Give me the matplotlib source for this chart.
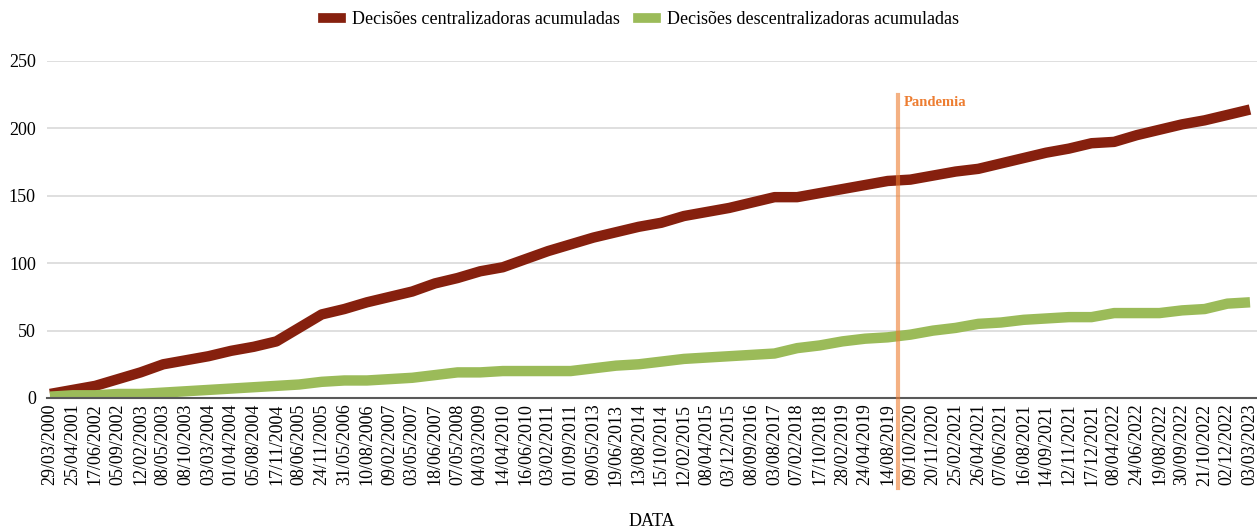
import matplotlib
matplotlib.use("Agg")
import matplotlib.pyplot as plt
from matplotlib.lines import Line2D
import matplotlib.transforms as mtransforms

dates = ["29/03/2000", "25/04/2001", "17/06/2002", "05/09/2002", "12/02/2003", "08/05/2003",
         "08/10/2003", "03/03/2004", "01/04/2004", "05/08/2004", "17/11/2004", "08/06/2005",
         "24/11/2005", "31/05/2006", "10/08/2006", "09/02/2007", "03/05/2007", "18/06/2007",
         "07/05/2008", "04/03/2009", "14/04/2010", "16/06/2010", "03/02/2011", "01/09/2011",
         "09/05/2013", "19/06/2013", "13/08/2014", "15/10/2014", "12/02/2015", "08/04/2015",
         "03/12/2015", "08/09/2016", "03/08/2017", "07/02/2018", "17/10/2018", "28/02/2019",
         "24/04/2019", "14/08/2019", "09/10/2020", "20/11/2020", "25/02/2021", "26/04/2021",
         "07/06/2021", "16/08/2021", "14/09/2021", "12/11/2021", "17/12/2021", "08/04/2022",
         "24/06/2022", "19/08/2022", "30/09/2022", "21/10/2022", "02/12/2022", "03/03/2023"]

centralizadoras = [3, 6, 9, 14, 19, 25, 28, 31, 35, 38, 42, 52, 62, 66, 71, 75, 79, 85,
                   89, 94, 97, 103, 109, 114, 119, 123, 127, 130, 135, 138, 141, 145, 149, 149,
                   152, 155, 158, 161, 162, 165, 168, 170, 174, 178, 182, 185, 189, 190, 195,
                   199, 203, 206, 210, 214]

descentralizadoras = [1, 2, 2, 3, 3, 4, 5, 6, 7, 8, 9, 10, 12, 13, 13, 14, 15, 17,
                      19, 19, 20, 20, 20, 20, 22, 24, 25, 27, 29, 30, 31, 32, 33, 37,
                      39, 42, 44, 45, 47, 50, 52, 55, 56, 58, 59, 60, 60, 63, 63,
                      63, 65, 66, 70, 71]

pandemia_pos = 37.45
pandemia_label = "Pandemia"
series_names = ["Decisões centralizadoras acumuladas", "Decisões descentralizadoras acumuladas"]

RED = "#86200E"
GREEN = "#9BBB59"
ORANGE = "#ED7D31"

plt.rcParams["font.family"] = ["Liberation Serif", "DejaVu Serif"]

fig = plt.figure(figsize=(12.57, 5.32), dpi=100)
ax = fig.add_axes([47 / 1257, 134 / 532, 1 - 47 / 1257, (398 - 61) / 532])

x = list(range(len(dates)))
ax.plot(x, centralizadoras, color=RED, lw=7.5, solid_joinstyle="round", solid_capstyle="butt", zorder=3)
ax.plot(x, descentralizadoras, color=GREEN, lw=7.5, solid_joinstyle="round", solid_capstyle="butt", zorder=3)

ax.set_xlim(-3 / 22.64, len(dates) - 1 + 7 / 22.64)
ax.set_ylim(0, 250)
ax.set_yticks([0, 50, 100, 150, 200, 250])
ax.set_xticks(x)
ax.set_xticklabels(dates, rotation=90, fontsize=13)
ax.tick_params(axis="y", length=0, pad=8, labelsize=13)
ax.tick_params(axis="x", length=0, pad=4)
ax.grid(axis="y", color="#D9D9D9", lw=1.2)
ax.set_axisbelow(True)
for s in ["top", "right", "left"]:
    ax.spines[s].set_visible(False)
ax.spines["bottom"].set_color("#595959")
ax.spines["bottom"].set_linewidth(1.5)
ax.spines["bottom"].set_zorder(4)

trans = mtransforms.blended_transform_factory(ax.transData, ax.transAxes)
ax.add_line(Line2D([pandemia_pos, pandemia_pos], [-0.267, 0.899], transform=trans,
                   color=ORANGE, alpha=0.6, lw=3, clip_on=False, zorder=5))
ax.text(pandemia_pos + 0.25, 0.876, pandemia_label, transform=trans, color=ORANGE,
        fontsize=10.5, fontweight="bold", va="center", ha="left")

ax.set_xlabel("DATA", fontsize=13, labelpad=20)

handles = [Line2D([], [], color=RED, lw=7), Line2D([], [], color=GREEN, lw=7)]
fig.legend(handles, series_names, loc="center", bbox_to_anchor=(641 / 1257, 1 - 20 / 532), ncol=2,
           frameon=False, fontsize=13, handlelength=1.0, columnspacing=1.0, handletextpad=0.6)

fig.savefig("out.png", dpi=100)
